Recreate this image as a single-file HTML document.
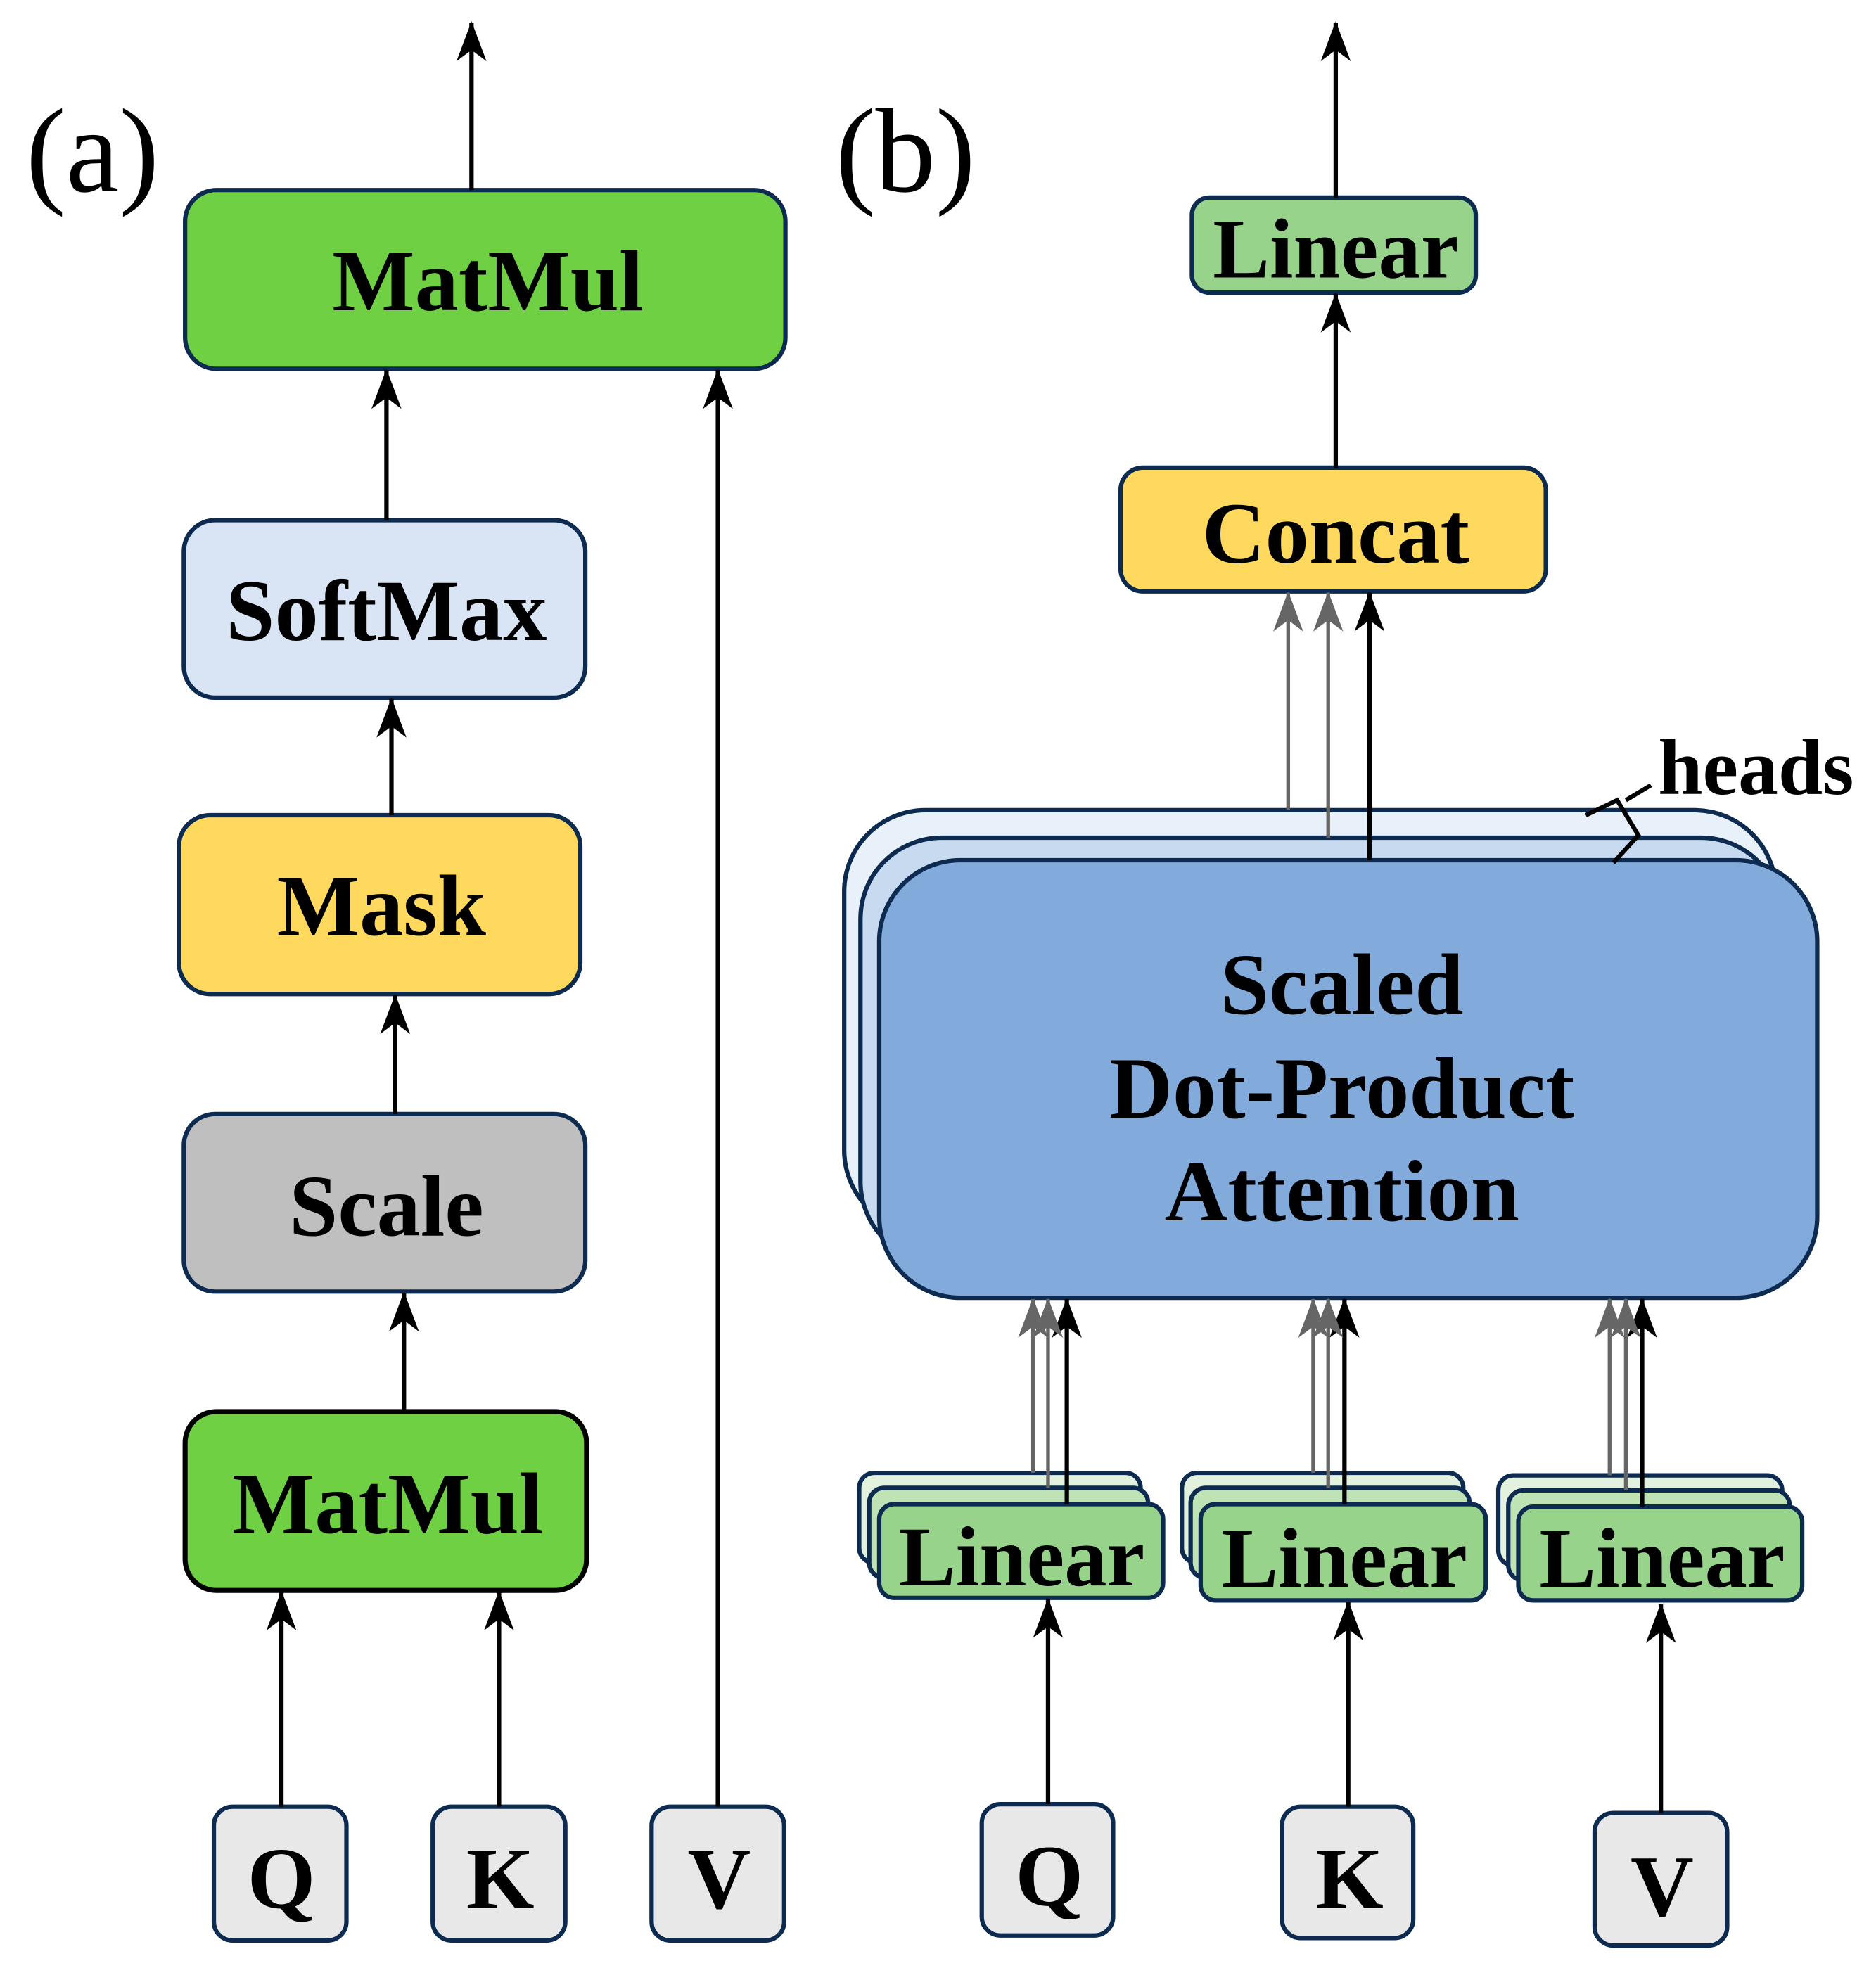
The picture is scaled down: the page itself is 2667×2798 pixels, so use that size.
<!DOCTYPE html>
<html><head><meta charset="utf-8"><style>html,body{margin:0;padding:0;background:#fff}svg{display:block}</style></head>
<body>
<svg width="2667" height="2798" viewBox="0 0 1500 1574" preserveAspectRatio="none" xmlns="http://www.w3.org/2000/svg" font-family="'Liberation Serif', serif" font-weight="bold">
<defs>
<marker id="ah" markerUnits="userSpaceOnUse" markerWidth="32" markerHeight="24" refX="31" refY="12" orient="auto" viewBox="0 0 32 24">
<path d="M32 12 L0 0 L9 12 L0 24 Z" fill="#000"/></marker>
<marker id="ag" markerUnits="userSpaceOnUse" markerWidth="32" markerHeight="24" refX="31" refY="12" orient="auto" viewBox="0 0 32 24">
<path d="M32 12 L0 0 L9 12 L0 24 Z" fill="#666"/></marker>
</defs>
<g stroke="#0d2a50" stroke-width="3.5">
<rect x="148" y="152" width="480" height="143" rx="25" fill="#6fd043"/>
<rect x="147" y="416" width="321" height="142" rx="25" fill="#d9e5f4"/>
<rect x="143" y="652" width="321" height="143" rx="25" fill="#ffd95e"/>
<rect x="147" y="891" width="321" height="142" rx="25" fill="#bfbfbf"/>
<rect x="148" y="1129" width="321" height="143" rx="25" fill="#6fd043" stroke="#000" stroke-width="4"/>
<rect x="171" y="1445" width="106" height="107" rx="15" fill="#e8e8e8"/>
<rect x="346" y="1445" width="106" height="107" rx="15" fill="#e8e8e8"/>
<rect x="521" y="1445" width="106" height="107" rx="15" fill="#e8e8e8"/>
<rect x="953" y="158" width="227" height="76" rx="14" fill="#97d38a"/>
<rect x="896" y="374" width="340" height="99" rx="18" fill="#ffd95e"/>
<rect x="675" y="648" width="745" height="337" rx="65" fill="#e8f0fa"/>
<rect x="688" y="670" width="737" height="340" rx="65" fill="#c8daf0"/>
<rect x="703" y="688" width="750" height="350" rx="65" fill="#82abdc"/>
<rect x="687" y="1178" width="225" height="72" rx="12" fill="#e3f2de"/>
<rect x="695" y="1190" width="223" height="72" rx="12" fill="#bfe3b5"/>
<rect x="703" y="1203" width="227" height="75" rx="12" fill="#97d38a"/>
<rect x="945" y="1178" width="225" height="72" rx="12" fill="#e3f2de"/>
<rect x="952" y="1190" width="223" height="72" rx="12" fill="#bfe3b5"/>
<rect x="960" y="1203" width="228" height="77" rx="12" fill="#97d38a"/>
<rect x="1198" y="1180" width="227" height="72" rx="12" fill="#e3f2de"/>
<rect x="1206" y="1192" width="225" height="72" rx="12" fill="#bfe3b5"/>
<rect x="1214" y="1205" width="227" height="75" rx="12" fill="#97d38a"/>
<rect x="785" y="1443" width="105" height="105" rx="15" fill="#e8e8e8"/>
<rect x="1025" y="1445" width="105" height="105" rx="15" fill="#e8e8e8"/>
<rect x="1275" y="1450" width="106" height="106" rx="15" fill="#e8e8e8"/>
</g>
<g stroke="#000" stroke-width="3.5" fill="none" marker-end="url(#ah)">
<line x1="377" y1="152" x2="377" y2="18"/>
<line x1="309" y1="416" x2="309" y2="296"/>
<line x1="313" y1="652" x2="313" y2="559"/>
<line x1="316" y1="891" x2="316" y2="796"/>
<line x1="323" y1="1129" x2="323" y2="1034"/>
<line x1="225" y1="1445" x2="225" y2="1273"/>
<line x1="399" y1="1445" x2="399" y2="1273"/>
<line x1="574" y1="1445" x2="574" y2="296"/>
<line x1="1068" y1="158" x2="1068" y2="18"/>
<line x1="1068" y1="374" x2="1068" y2="235"/>
<line x1="1095" y1="688" x2="1095" y2="474"/>
<line x1="853" y1="1203" x2="853" y2="1039"/>
<line x1="1075" y1="1203" x2="1075" y2="1039"/>
<line x1="1313" y1="1205" x2="1313" y2="1039"/>
<line x1="838" y1="1443" x2="838" y2="1279"/>
<line x1="1078" y1="1445" x2="1078" y2="1281"/>
<line x1="1328" y1="1450" x2="1328" y2="1283"/>
</g>
<g stroke="#666" stroke-width="3" fill="none" marker-end="url(#ag)">
<line x1="1030" y1="648" x2="1030" y2="474"/>
<line x1="1062" y1="670" x2="1062" y2="474"/>
<line x1="826" y1="1178" x2="826" y2="1039"/>
<line x1="838" y1="1190" x2="838" y2="1039"/>
<line x1="1050" y1="1178" x2="1050" y2="1039"/>
<line x1="1062" y1="1190" x2="1062" y2="1039"/>
<line x1="1287" y1="1180" x2="1287" y2="1039"/>
<line x1="1300" y1="1192" x2="1300" y2="1039"/>
</g>
<path d="M1268 652 L1293 640 L1310 668 L1290 690 M1300 640 L1320 628" stroke="#000" stroke-width="3.5" fill="none"/>
<g fill="#000" text-anchor="middle" font-size="70">
<text x="390" y="248">MatMul</text>
<text x="309" y="512">SoftMax</text>
<text x="305" y="748">Mask</text>
<text x="309" y="988">Scale</text>
<text x="310" y="1226">MatMul</text>
<text x="225" y="1526">Q</text>
<text x="400" y="1526">K</text>
<text x="575" y="1526">V</text>
<text x="1068" y="222" font-size="68">Linear</text>
<text x="1068" y="450">Concat</text>
<text x="1073" y="811">Scaled</text>
<text x="1073" y="894">Dot-Product</text>
<text x="1073" y="976">Attention</text>
<text x="817" y="1268" font-size="68">Linear</text>
<text x="1075" y="1269" font-size="68">Linear</text>
<text x="1329" y="1269" font-size="68">Linear</text>
<text x="839" y="1524">Q</text>
<text x="1079" y="1526">K</text>
<text x="1329" y="1532">V</text>
<text x="1404" y="635" font-size="64">heads</text>
<text x="74" y="153" font-size="96" font-weight="normal">(a)</text>
<text x="724" y="153" font-size="96" font-weight="normal">(b)</text>
</g>
</svg>
</body></html>
